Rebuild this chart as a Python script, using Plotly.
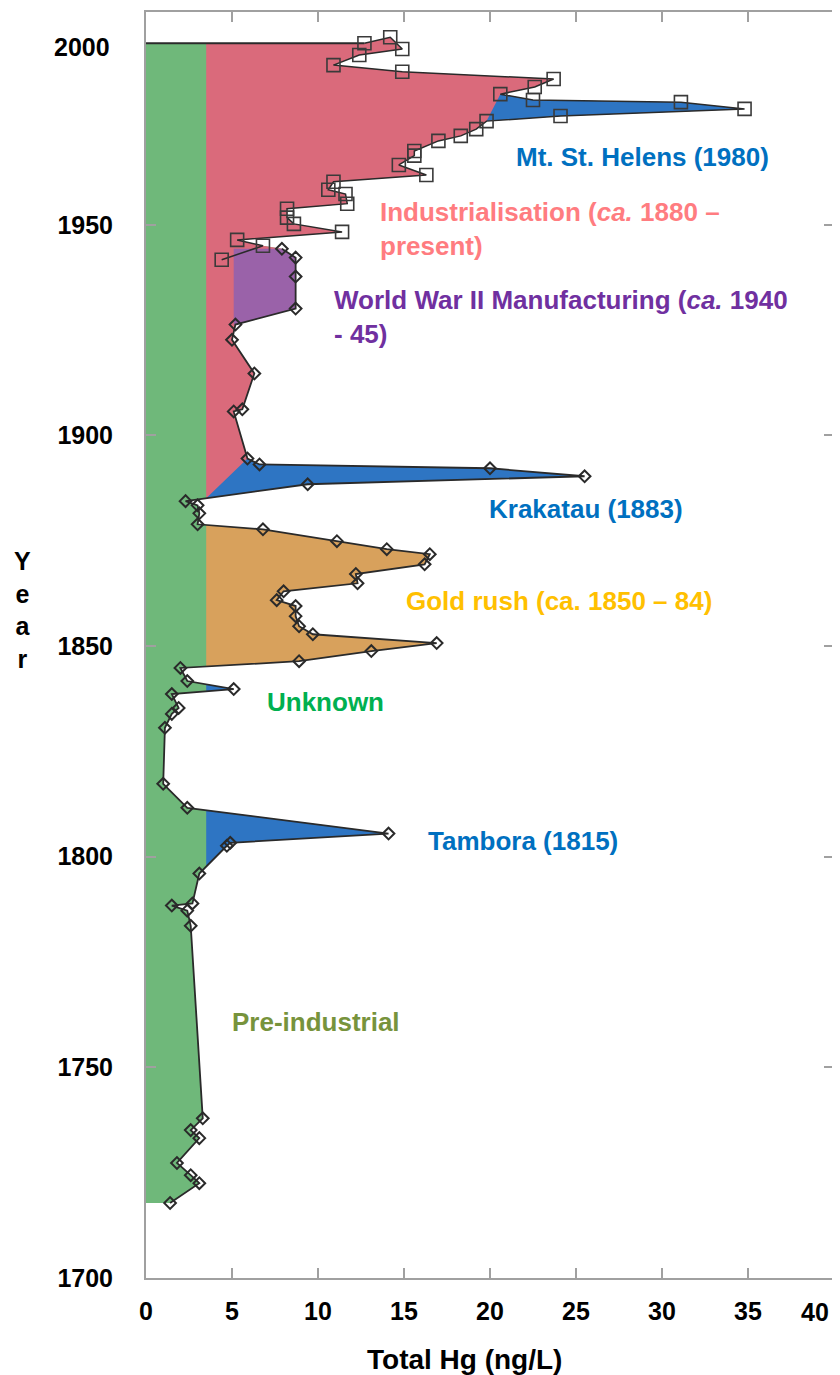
import plotly.graph_objects as go

# ─────────────────────────────────────────────────────────────────────────────
# Data
# ─────────────────────────────────────────────────────────────────────────────
# recent record (open squares), newest first
RECENT_YEAR = [1993.1, 1994.5, 1991.7, 1990.3, 1987.9, 1986.3, 1984.6, 1982.7, 1981.0,
               1979.6, 1979.1, 1977.5, 1975.8, 1974.6, 1972.7, 1971.1, 1969.9, 1967.5,
               1966.4, 1964.2, 1961.8, 1960.2, 1958.3, 1957.3, 1955.0, 1953.8, 1951.7,
               1950.2, 1948.3, 1946.4, 1945.0, 1941.7]
RECENT_HG = [12.7, 14.2, 14.9, 12.4, 10.9, 14.9, 23.7, 22.6, 20.6,
             22.5, 31.1, 34.8, 24.1, 19.8, 19.2, 18.3, 17.0, 15.6,
             15.6, 14.7, 16.3, 10.9, 10.6, 11.6, 11.7, 8.2, 8.2,
             8.6, 11.4, 5.3, 6.8, 4.4]

# ice core record (open diamonds), newest first
CORE_YEAR = [1944.3, 1942.2, 1937.7, 1930.1, 1926.3, 1922.7, 1914.7, 1906.2, 1905.7,
             1894.5, 1893.1, 1892.2, 1890.3, 1888.4, 1884.4, 1883.4, 1881.5, 1878.9,
             1877.7, 1874.9, 1873.0, 1871.8, 1869.4, 1867.1, 1864.9, 1863.0, 1860.9,
             1859.5, 1857.1, 1854.7, 1852.8, 1850.7, 1848.8, 1846.4, 1844.8, 1841.7,
             1839.8, 1838.6, 1835.3, 1833.9, 1830.6, 1817.3, 1811.6, 1805.5, 1803.3,
             1802.6, 1796.0, 1788.9, 1788.4, 1787.2, 1783.6, 1737.9, 1735.1, 1733.2,
             1727.3, 1724.4, 1722.5, 1717.8]
CORE_HG = [7.9, 8.7, 8.7, 8.7, 5.2, 5.0, 6.3, 5.6, 5.1,
           5.9, 6.6, 20.0, 25.5, 9.4, 2.3, 3.0, 3.1, 3.0,
           6.8, 11.1, 14.0, 16.5, 16.2, 12.2, 12.3, 8.0, 7.6,
           8.7, 8.7, 8.9, 9.7, 16.9, 13.1, 8.9, 2.0, 2.4,
           5.1, 1.5, 1.9, 1.5, 1.1, 1.0, 2.4, 14.1, 4.9,
           4.7, 3.1, 2.7, 1.5, 2.4, 2.6, 3.3, 2.6, 3.1,
           1.8, 2.6, 3.1, 1.4]

BACKGROUND_HG = 3.5      # pre-industrial background level
WWII_BASE_HG = 5.1

INDUSTRIAL_SPAN = (1884.0, 2000.0)
MSH_SPAN = (1974.6, 1981.0)
KRAKATAU_SPAN = (1884.0, 1894.5)
WWII_SPAN = (1926.3, 1944.3)
GOLD_RUSH_SPAN = (1844.8, 1881.5)
EARLY_SPAN = (1700.0, 1844.8)

X_TICKS = [0, 5, 10, 15, 20, 25, 30, 35, 40]
X_TICK_LABELS = ["0", "5", "10", "15", "20", "25", "30", "35", "40"]
Y_TICKS = [1700, 1750, 1800, 1850, 1900, 1950]
TOP_LABEL = "2000"
TOP_LABEL_YEAR = 1992.2

COLORS = {
    "green":  "#6FB87A",
    "pink":   "#DA6A7B",
    "blue":   "#2E75C3",
    "purple": "#9A62A9",
    "orange": "#D8A15C",
    "frame":  "#A0A0A0",
    "line":   "#2A2A2A",
}

FONT = "Liberation Sans, Arial, sans-serif"

# merged profile used for the shaded areas
PROFILE_YEAR = [y for y in RECENT_YEAR if y > CORE_YEAR[0]] + CORE_YEAR
PROFILE_HG = [h for h, y in zip(RECENT_HG, RECENT_YEAR) if y > CORE_YEAR[0]] + CORE_HG


# ─────────────────────────────────────────────────────────────────────────────
# Helpers
# ─────────────────────────────────────────────────────────────────────────────
def window(span):
    lo, hi = span
    idx = [i for i, y in enumerate(PROFILE_YEAR) if lo <= y <= hi]
    return [PROFILE_HG[i] for i in idx], [PROFILE_YEAR[i] for i in idx]


def excursions(xs, ys, x0, cap=True):
    """Parts of the profile lying right of x = x0, as closed polygons."""
    polys, cur = [], []
    if cap and xs[0] > x0:
        cur.append((x0, ys[0]))
    for i in range(len(xs)):
        if xs[i] > x0:
            cur.append((xs[i], ys[i]))
        if i + 1 < len(xs) and (xs[i] - x0) * (xs[i + 1] - x0) < 0:
            t = (x0 - xs[i]) / (xs[i + 1] - xs[i])
            yc = ys[i] + t * (ys[i + 1] - ys[i])
            if xs[i] > x0:
                cur.append((x0, yc))
                polys.append(cur)
                cur = []
            else:
                cur = [(x0, yc)]
    if cur:
        if cap:
            cur.append((x0, ys[-1]))
        polys.append(cur)
    return polys


def area(polys, color):
    px, py = [], []
    for p in polys:
        px += [q[0] for q in p] + [None]
        py += [q[1] for q in p] + [None]
    return go.Scatter(x=px, y=py, mode="lines", fill="toself", fillcolor=color,
                      line=dict(width=0), hoverinfo="skip", showlegend=False)


# ─────────────────────────────────────────────────────────────────────────────
# Figure
# ─────────────────────────────────────────────────────────────────────────────
fig = go.Figure()

fig.add_trace(area(excursions(PROFILE_HG, PROFILE_YEAR, 0), COLORS["green"]))
fig.add_trace(area(excursions(*window(INDUSTRIAL_SPAN), BACKGROUND_HG), COLORS["pink"]))
fig.add_trace(area(excursions(*window(WWII_SPAN), WWII_BASE_HG), COLORS["purple"]))
fig.add_trace(area(excursions(*window(KRAKATAU_SPAN), BACKGROUND_HG, cap=False), COLORS["blue"]))
fig.add_trace(area(excursions(*window(MSH_SPAN), BACKGROUND_HG, cap=False), COLORS["blue"]))
fig.add_trace(area(excursions(*window(GOLD_RUSH_SPAN), BACKGROUND_HG), COLORS["orange"]))
fig.add_trace(area(excursions(*window(EARLY_SPAN), BACKGROUND_HG), COLORS["blue"]))

# top edge of the record
fig.add_trace(go.Scatter(
    x=[0, RECENT_HG[0]], y=[RECENT_YEAR[0], RECENT_YEAR[0]],
    mode="lines", line=dict(color=COLORS["line"], width=2),
    hoverinfo="skip", showlegend=False,
))

fig.add_trace(go.Scatter(
    x=CORE_HG, y=CORE_YEAR, mode="lines+markers",
    line=dict(color=COLORS["line"], width=1.8),
    marker=dict(symbol="diamond-open", size=9, color=COLORS["line"], line=dict(width=2)),
    name="Ice core", showlegend=False,
    hovertemplate="%{y:.0f}: %{x} ng/L<extra></extra>",
))
fig.add_trace(go.Scatter(
    x=RECENT_HG, y=RECENT_YEAR, mode="lines+markers",
    line=dict(color=COLORS["line"], width=1.5),
    marker=dict(symbol="square-open", size=13, color="#3A3A3A", line=dict(width=1.6)),
    name="Recent", showlegend=False,
    hovertemplate="%{y:.0f}: %{x} ng/L<extra></extra>",
))

# ── labels ──────────────────────────────────────────────────────────────────
LABELS = [
    ("Mt. St. Helens (1980)", 21.4, 1966.1, "#0070C0"),
    ("Industrialisation (<i>ca.</i> 1880 –<br>present)", 13.5, 1948.9, "#FF7C80"),
    ("World War II Manufacturing (<i>ca.</i> 1940<br>- 45)", 10.8, 1928.0, "#7030A0"),
    ("Krakatau (1883)", 19.8, 1882.5, "#0070C0"),
    ("Gold rush (ca. 1850 – 84)", 15.0, 1860.7, "#FFC000"),
    ("Unknown", 6.9, 1836.7, "#00B050"),
    ("Tambora (1815)", 16.3, 1803.8, "#0070C0"),
    ("Pre-industrial", 4.9, 1760.7, "#77933C"),
]
for text, x, y, color in LABELS:
    fig.add_annotation(x=x, y=y, text=f"<b>{text}</b>", showarrow=False,
                       xanchor="left", yanchor="middle", align="left",
                       font=dict(size=26, color=color, family=FONT))

tick_font = dict(size=25, color="black", family=FONT)
fig.add_annotation(x=0, y=TOP_LABEL_YEAR, xref="x", yref="y", text=f"<b>{TOP_LABEL}</b>",
                   showarrow=False, xanchor="right", yanchor="middle", xshift=-34,
                   font=tick_font)
# last x label sits just inside the right edge, as in the source figure
fig.add_annotation(x=X_TICKS[-1], y=-0.027, xref="x", yref="paper",
                   text=f"<b>{X_TICK_LABELS[-1]}</b>", showarrow=False,
                   xanchor="right", yanchor="middle", xshift=-3, font=tick_font)
fig.add_annotation(x=0, y=1858.5, xref="x", yref="y", text="<b>Y<br>e<br>a<br>r</b>",
                   showarrow=False, xanchor="center", yanchor="middle", xshift=-124,
                   font=tick_font)
fig.add_annotation(x=18.5, y=-0.064, xref="x", yref="paper", text="<b>Total Hg (ng/L)</b>",
                   showarrow=False, xanchor="center", yanchor="middle",
                   font=dict(size=28, color="black", family=FONT))

axis_common = dict(
    ticks="inside", ticklen=10, tickwidth=2, tickcolor=COLORS["frame"],
    showline=True, linecolor=COLORS["frame"], linewidth=2, mirror="ticks",
    showgrid=False, zeroline=False,
    tickfont=dict(size=25, color="black", family=FONT, weight="bold"),
)

# page body adds an 8px offset, so the figure is 8px smaller than the window
fig.update_layout(
    width=832, height=1367,
    margin=dict(l=138, r=6, t=2, b=97),
    paper_bgcolor="white", plot_bgcolor="white",
    font=dict(family=FONT, color="black"),
    showlegend=False,
    xaxis=dict(range=[0, 40], tickvals=X_TICKS,
               ticktext=X_TICK_LABELS[:-1] + [""], ticklabelstandoff=10, **axis_common),
    yaxis=dict(range=[1700, 2000.5], tickvals=Y_TICKS, ticklabelstandoff=26, **axis_common),
)

fig.write_html("out.html")
